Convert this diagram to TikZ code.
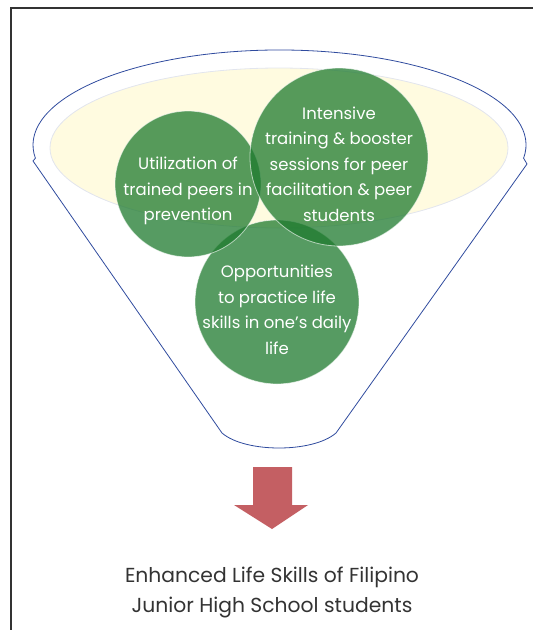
\documentclass[tikz,border=0pt]{standalone}
\usepackage{fontspec}
\setmainfont{Poppins}
\definecolor{funnelblue}{HTML}{2F4B9E}
\definecolor{rimyellow}{HTML}{FFFBE0}
\definecolor{rimline}{HTML}{E2E5EE}
\definecolor{leafgreen}{HTML}{1E7A2E}
\definecolor{arrowred}{HTML}{C45F63}
\definecolor{framegray}{HTML}{333333}
\tikzset{
  bubble/.style={circle, fill=leafgreen, fill opacity=0.75, draw=white, draw opacity=0.6,
    line width=0.8pt, inner sep=0pt},
  bubbletext/.style={text=white, align=center, inner sep=0pt,
    font=\fontsize{16.5}{25.5}\selectfont},
  funnel/.style={draw=funnelblue, line width=0.8pt}
}
\begin{document}
\begin{tikzpicture}[x=1pt,y=-1pt]
\useasboundingbox (0,0) rectangle (533,630);
\draw[framegray, line width=1.2pt] (11,630) -- (11,8) -- (533,8);
% funnel outline
\draw[funnel] (33,161) -- (222,433) .. controls (245,453) and (313,453) .. (336,433)
  -- (527,164) -- (523.6,158.2) arc[start angle=-8, end angle=188, x radius=246.5pt, y radius=95pt] -- cycle;
\draw[fill=rimyellow, draw=rimline, line width=0.8pt] (279,148) ellipse[x radius=229pt, y radius=80pt];
% the three bubbles
\node[bubble, minimum size=164pt] (practice) at (277,302) {};
\node[bubble, minimum size=146pt] (peers) at (188,184) {};
\node[bubble, minimum size=178pt] (training) at (339,157) {};
\node[bubbletext] at ([yshift=-8]practice) {Opportunities\\to practice life\\skills in one’s daily\\life};
\node[bubbletext] at ([yshift=-7]peers) {Utilization of\\trained peers in\\prevention};
\node[bubbletext] at ([yshift=-7]training) {Intensive\\training \& booster\\sessions for peer\\facilitation \& peer\\students};
% arrow
\fill[arrowred] (253,467) -- (292,467) -- (292,505) -- (308,505) -- (272,529) -- (234,505) -- (253,505) -- cycle;
\node[text=framegray, align=center, font=\fontsize{20.3}{30}\selectfont] (outcome) at (272,592)
  {Enhanced Life Skills of Filipino\\Junior High School students};
\end{tikzpicture}
\end{document}
